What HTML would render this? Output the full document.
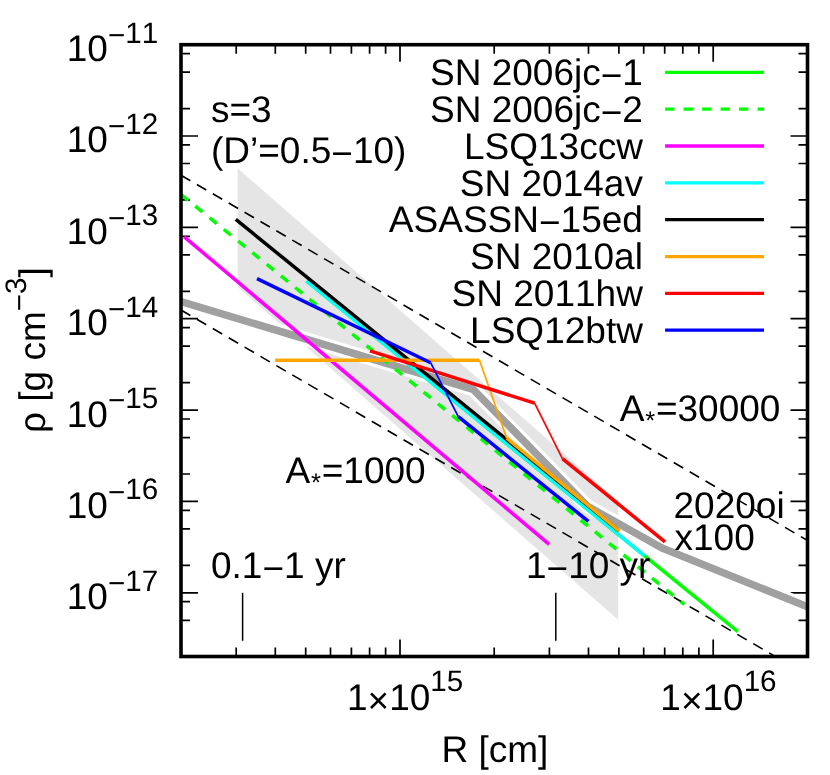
<!DOCTYPE html><html><head><meta charset="utf-8"><style>
html,body{margin:0;padding:0;background:#fff;}
svg{display:block;will-change:transform;font-family:"Liberation Sans",sans-serif;font-kerning:none;font-variant-ligatures:none;text-rendering:geometricPrecision;}
text{fill:#000;}
</style></head><body>
<svg width="830" height="775" viewBox="0 0 830 775">
<rect width="830" height="775" fill="#fff"/>
<defs><clipPath id="c"><rect x="181.0" y="44.7" width="626.5" height="611.8"/></clipPath></defs>
<path d="M181.0 592.8h17 M807.5 592.8h-17 M181.0 565.3h9 M807.5 565.3h-9 M181.0 528.9h9 M807.5 528.9h-9 M181.0 510.3h9 M807.5 510.3h-9 M181.0 501.4h17 M807.5 501.4h-17 M181.0 474.0h9 M807.5 474.0h-9 M181.0 437.6h9 M807.5 437.6h-9 M181.0 419.0h9 M807.5 419.0h-9 M181.0 410.1h17 M807.5 410.1h-17 M181.0 382.6h9 M807.5 382.6h-9 M181.0 346.2h9 M807.5 346.2h-9 M181.0 327.6h9 M807.5 327.6h-9 M181.0 318.7h17 M807.5 318.7h-17 M181.0 291.3h9 M807.5 291.3h-9 M181.0 254.9h9 M807.5 254.9h-9 M181.0 236.3h9 M807.5 236.3h-9 M181.0 227.4h17 M807.5 227.4h-17 M181.0 199.9h9 M807.5 199.9h-9 M181.0 163.5h9 M807.5 163.5h-9 M181.0 144.9h9 M807.5 144.9h-9 M181.0 136.0h17 M807.5 136.0h-17 M181.0 108.6h9 M807.5 108.6h-9 M181.0 72.2h9 M807.5 72.2h-9 M181.0 53.6h9 M807.5 53.6h-9 M181.0 44.7h17 M807.5 44.7h-17 M181.0 656.7h9 M807.5 656.7h-9 M181.0 620.3h9 M807.5 620.3h-9 M181.0 601.7h9 M807.5 601.7h-9 M181.0 656.5v-9 M181.0 44.7v9 M236.2 656.5v-9 M236.2 44.7v9 M275.3 656.5v-9 M275.3 44.7v9 M305.7 656.5v-9 M305.7 44.7v9 M330.5 656.5v-9 M330.5 44.7v9 M351.4 656.5v-9 M351.4 44.7v9 M369.6 656.5v-9 M369.6 44.7v9 M385.6 656.5v-9 M385.6 44.7v9 M400.0 656.5v-17 M400.0 44.7v17 M494.2 656.5v-9 M494.2 44.7v9 M549.4 656.5v-9 M549.4 44.7v9 M588.5 656.5v-9 M588.5 44.7v9 M618.9 656.5v-9 M618.9 44.7v9 M643.7 656.5v-9 M643.7 44.7v9 M664.7 656.5v-9 M664.7 44.7v9 M682.8 656.5v-9 M682.8 44.7v9 M698.9 656.5v-9 M698.9 44.7v9 M713.2 656.5v-17 M713.2 44.7v17 M807.5 656.5v-9 M807.5 44.7v9" stroke="#000" stroke-width="1.7" fill="none"/>
<g clip-path="url(#c)" fill="none" stroke-linecap="butt" stroke-linejoin="miter">
<polygon points="237.7,168.3 618.2,501.0 618.2,619.8 237.7,287.1" fill="#e5e5e5" stroke="none"/>
<polyline points="170,298.2 181,301.5 473.2,389.4 587.6,506.3 662,548 807.5,606.8 820,611.8" stroke="#fff" stroke-width="13.8" stroke-linejoin="round"/>
<polyline points="170,298.2 181,301.5 473.2,389.4 587.6,506.3 662,548 807.5,606.8 820,611.8" stroke="#a0a0a0" stroke-width="7.5" stroke-linejoin="round"/>
<line x1="181.0" y1="175.2" x2="812.5" y2="543.4" stroke="#000" stroke-width="1.6" stroke-dasharray="10.9 7.5"/>
<line x1="181.0" y1="310.0" x2="812.5" y2="678.2" stroke="#000" stroke-width="1.6" stroke-dasharray="10.9 7.5"/>
<line x1="306.5" y1="281" x2="737.9" y2="631.7" stroke="#00ff00" stroke-width="3.5"/>
<line x1="181.0" y1="194.5" x2="684.3" y2="604.4" stroke="#00ff00" stroke-width="3.5" stroke-dasharray="9.3 9.11"/>
<line x1="184.2" y1="236.8" x2="549.2" y2="544.4" stroke="#ff00ff" stroke-width="3.5"/>
<line x1="306.5" y1="281" x2="644.4" y2="555.7" stroke="#00ffff" stroke-width="3.5"/>
<line x1="235.8" y1="219.4" x2="619" y2="530.9" stroke="#000" stroke-width="3.5"/>
<line x1="275.2" y1="360.3" x2="479.5" y2="360.3" stroke="#ffa500" stroke-width="3.5"/>
<line x1="479.5" y1="360.3" x2="506.7" y2="438.1" stroke="#ffa500" stroke-width="1.7"/>
<line x1="506.7" y1="438.1" x2="619.6" y2="531.1" stroke="#ffa500" stroke-width="3.5"/>
<line x1="370" y1="350.8" x2="534.6" y2="403.2" stroke="#ff0000" stroke-width="3.5"/>
<line x1="534.6" y1="403.2" x2="562.4" y2="458.7" stroke="#ff0000" stroke-width="1.7"/>
<line x1="562.4" y1="458.7" x2="665" y2="541.9" stroke="#ff0000" stroke-width="3.5"/>
<line x1="257" y1="278.6" x2="430.6" y2="362.7" stroke="#0000ff" stroke-width="3.5"/>
<line x1="430.6" y1="362.7" x2="458.3" y2="416.6" stroke="#0000ff" stroke-width="1.7"/>
<line x1="458.3" y1="416.6" x2="588.4" y2="521.4" stroke="#0000ff" stroke-width="3.5"/>
</g>
<line x1="242.6" y1="592.8" x2="242.6" y2="640.8" stroke="#000" stroke-width="1.5"/>
<line x1="555.8" y1="592.8" x2="555.8" y2="640.8" stroke="#000" stroke-width="1.5"/>
<line x1="665.1" y1="72.3" x2="764" y2="72.3" stroke="#00ff00" stroke-width="3.3"/>
<text x="642.9" y="85.0" font-size="37" text-anchor="end">SN 2006jc<tspan dy="3">−</tspan><tspan dy="-3">1</tspan></text>
<line x1="665.1" y1="109.2" x2="764" y2="109.2" stroke="#00ff00" stroke-width="3.3" stroke-dasharray="9.3 9.2"/>
<text x="642.9" y="121.9" font-size="37" text-anchor="end">SN 2006jc<tspan dy="3">−</tspan><tspan dy="-3">2</tspan></text>
<line x1="665.1" y1="146.0" x2="764" y2="146.0" stroke="#ff00ff" stroke-width="3.3"/>
<text x="642.9" y="158.7" font-size="37" text-anchor="end">LSQ13ccw</text>
<line x1="665.1" y1="182.9" x2="764" y2="182.9" stroke="#00ffff" stroke-width="3.3"/>
<text x="642.9" y="195.6" font-size="37" text-anchor="end">SN 2014av</text>
<line x1="665.1" y1="219.7" x2="764" y2="219.7" stroke="#000" stroke-width="3.3"/>
<text x="642.9" y="232.4" font-size="37" text-anchor="end">ASASSN<tspan dy="3">−</tspan><tspan dy="-3">15ed</tspan></text>
<line x1="665.1" y1="256.6" x2="764" y2="256.6" stroke="#ffa500" stroke-width="3.3"/>
<text x="642.9" y="269.2" font-size="37" text-anchor="end">SN 2010al</text>
<line x1="665.1" y1="293.4" x2="764" y2="293.4" stroke="#ff0000" stroke-width="3.3"/>
<text x="642.9" y="306.1" font-size="37" text-anchor="end">SN 2011hw</text>
<line x1="665.1" y1="330.2" x2="764" y2="330.2" stroke="#0000ff" stroke-width="3.3"/>
<text x="642.9" y="342.9" font-size="37" text-anchor="end">LSQ12btw</text>
<rect x="181.0" y="44.7" width="626.5" height="611.8" fill="none" stroke="#000" stroke-width="3.6"/>
<text x="66.8" y="61.1" font-size="37">10<tspan font-size="29.6" dy="-16.2">−</tspan><tspan font-size="29.6" dy="-2.4">11</tspan></text>
<text x="66.8" y="152.4" font-size="37">10<tspan font-size="29.6" dy="-16.2">−</tspan><tspan font-size="29.6" dy="-2.4">12</tspan></text>
<text x="66.8" y="243.8" font-size="37">10<tspan font-size="29.6" dy="-16.2">−</tspan><tspan font-size="29.6" dy="-2.4">13</tspan></text>
<text x="66.8" y="335.1" font-size="37">10<tspan font-size="29.6" dy="-16.2">−</tspan><tspan font-size="29.6" dy="-2.4">14</tspan></text>
<text x="66.8" y="426.5" font-size="37">10<tspan font-size="29.6" dy="-16.2">−</tspan><tspan font-size="29.6" dy="-2.4">15</tspan></text>
<text x="66.8" y="517.8" font-size="37">10<tspan font-size="29.6" dy="-16.2">−</tspan><tspan font-size="29.6" dy="-2.4">16</tspan></text>
<text x="66.8" y="609.2" font-size="37">10<tspan font-size="29.6" dy="-16.2">−</tspan><tspan font-size="29.6" dy="-2.4">17</tspan></text>
<text x="347.0" y="709.7" font-size="37">1<tspan dy="3">×</tspan><tspan dy="-3">10</tspan><tspan font-size="29.6" dy="-18.6">15</tspan></text>
<text x="660.3" y="709.7" font-size="37">1<tspan dy="3">×</tspan><tspan dy="-3">10</tspan><tspan font-size="29.6" dy="-18.6">16</tspan></text>
<text x="441.5" y="761.5" font-size="37">R [cm]</text>
<text transform="translate(45,433) rotate(-90)" font-size="37">ρ [g cm<tspan font-size="29.6" dy="-16.2">−</tspan><tspan font-size="29.6" dy="-2.4">3</tspan><tspan dy="18.6">]</tspan></text>
<text x="211" y="122" font-size="37">s=3</text>
<text x="211" y="162.5" font-size="37">(D’=0.5<tspan dy="3">−</tspan><tspan dy="-3">10)</tspan></text>
<text x="285.5" y="483" font-size="37">A<tspan font-size="25.5" dy="7.5" dx="0.8">*</tspan><tspan dy="-7.5" dx="0.8">=1000</tspan></text>
<text x="619.7" y="421" font-size="37">A<tspan font-size="25.5" dy="7.5" dx="0.8">*</tspan><tspan dy="-7.5" dx="0.8">=30000</tspan></text>
<text x="673.5" y="518" font-size="37">2020oi</text>
<text x="674.5" y="550" font-size="37">x100</text>
<text x="211" y="578" font-size="37">0.1<tspan dy="3">−</tspan><tspan dy="-3">1 yr</tspan></text>
<text x="526" y="578" font-size="37">1<tspan dy="3">−</tspan><tspan dy="-3">10 yr</tspan></text>
</svg></body></html>
